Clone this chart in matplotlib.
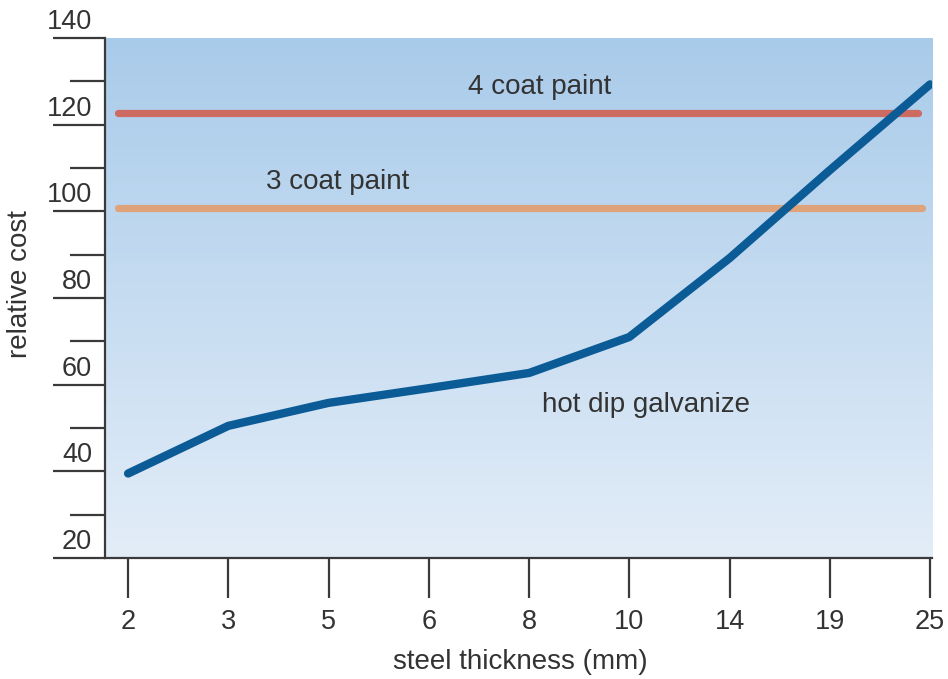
import matplotlib
matplotlib.use("Agg")
import matplotlib.pyplot as plt
import numpy as np
from matplotlib.colors import LinearSegmentedColormap
from matplotlib.transforms import offset_copy

plt.rcParams['font.family'] = ['Liberation Sans', 'DejaVu Sans']

# ---- data ----
thickness_labels = ["2", "3", "5", "6", "8", "10", "14", "19", "25"]
galvanize_cost = [39.5, 50.5, 55.8, 59.2, 62.7, 71.0, 89.2, 109.5, 129.3]
paint4_cost = 122.7
paint3_cost = 100.8
y_major = [20, 40, 60, 80, 100, 120, 140]
y_minor = [30, 50, 70, 90, 110, 130]

text_col = "#333333"
axis_col = "#3a3a3a"

fig = plt.figure(figsize=(9.48, 6.79), dpi=100)
ax = fig.add_axes([0.1108, 0.1782, 0.8724, 0.7658])

xpos = np.arange(len(thickness_labels))
ax.set_xlim(-0.23, 8.02)
ax.set_ylim(20, 140)

# gradient background
cmap = LinearSegmentedColormap.from_list("bg", ["#a9cbea", "#e3edf8"])
grad = np.linspace(0, 1, 256).reshape(-1, 1)
ax.imshow(grad, cmap=cmap, aspect="auto", extent=[0, 1, 0, 1],
          transform=ax.transAxes, zorder=0, interpolation="bicubic")

# paint lines
ax.hlines(paint4_cost, -0.1, 7.88, colors="#cd6a62", linewidth=5.2,
          capstyle="round", zorder=2)
ax.hlines(paint3_cost, -0.1, 7.92, colors="#dfa37b", linewidth=5.2,
          capstyle="round", zorder=2)

# galvanize line
ax.plot(xpos, galvanize_cost, color="#0b5b96", linewidth=6,
        solid_capstyle="round", solid_joinstyle="round", zorder=3)

# annotations
fs_ann = 20
ax.text(4.11, 128.7, "4 coat paint", ha="center", va="center",
        fontsize=fs_ann, color=text_col, zorder=4)
ax.text(2.09, 106.8, "3 coat paint", ha="center", va="center",
        fontsize=fs_ann, color=text_col, zorder=4)
ax.text(5.17, 55.3, "hot dip galvanize", ha="center", va="center",
        fontsize=fs_ann, color=text_col, zorder=4)

# spines
for s in ["top", "right"]:
    ax.spines[s].set_visible(False)
for s in ["left", "bottom"]:
    ax.spines[s].set_color(axis_col)
    ax.spines[s].set_linewidth(1.6)
    ax.spines[s].set_zorder(5)

# x ticks
ax.set_xticks(xpos)
ax.set_xticklabels(thickness_labels)
ax.tick_params(axis="x", direction="out", length=29, width=1.6,
               color=axis_col, pad=8, labelsize=19.5, labelcolor=text_col)

# y ticks
ax.set_yticks(y_major)
ax.set_yticks(y_minor, minor=True)
ax.tick_params(axis="y", which="major", direction="out", length=37.5,
               width=1.6, color=axis_col, labelleft=False)
ax.tick_params(axis="y", which="minor", direction="out", length=25,
               width=1.6, color=axis_col, labelleft=False)
ytrans = offset_copy(ax.get_yaxis_transform(), fig=fig, x=0, y=3, units="dots")
for v in y_major:
    ax.text(-0.0155, v, str(v), transform=ytrans, ha="right", va="bottom",
            fontsize=19.5, color=text_col, clip_on=False)

# axis labels
fig.text(20 / 948, 1 - 284 / 679, "relative cost", rotation=90,
         ha="center", va="center", fontsize=20, color=text_col)
fig.text(520 / 948, 1 - 662 / 679, "steel thickness (mm)",
         ha="center", va="center", fontsize=20, color=text_col)

fig.savefig("out.png", dpi=100)
